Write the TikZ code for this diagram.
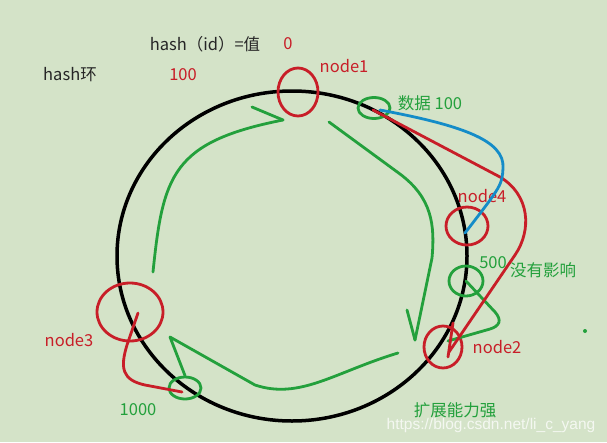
\documentclass[tikz,border=0pt]{standalone}
\usepackage{fontspec}
\setmainfont{Noto Sans CJK SC}
\newfontfamily\wmfont{Liberation Sans}
\usetikzlibrary{arrows.meta,shapes.geometric}
\definecolor{bgcol}{RGB}{212,227,200}
\definecolor{penred}{RGB}{200,30,40}
\definecolor{pengreen}{RGB}{35,160,60}
\definecolor{penblue}{RGB}{20,140,200}

\begin{document}
\begin{tikzpicture}
    [x=1pt, y=-1pt, font=\fontsize{16.5}{18}\selectfont,
    ring/.style={ellipse, draw=black, line width=3.5pt, inner sep=0pt},
    hot/.style={ellipse, draw=penred, line width=2.8pt, inner sep=0pt},
    keymark/.style={ellipse, draw=pengreen, line width=2.8pt, inner sep=0pt},
    rtxt/.style={text=penred, inner sep=0pt},
    gtxt/.style={text=pengreen, inner sep=0pt},
    btxt/.style={text=black!85, inner sep=0pt},
    gpen/.style={draw=pengreen, line width=2.8pt, line cap=round, line join=round},
    rpen/.style={draw=penred, line width=2.8pt, line cap=round, line join=round},
    bpen/.style={draw=penblue, line width=2.8pt, line cap=round, line join=round}]
    \fill[bgcol] (0,0) rectangle (607,442);
    \useasboundingbox (0,0) rectangle (607,442);

    \node[btxt] (title) at (205,44) {hash（id）=值};
    \node[rtxt] (zero) at (288,44) {0};
    \node[btxt] (ringname) at (70,75) {hash环};
    \node[rtxt] (hundred) at (183,75) {100};
    \node[rtxt] (l1) at (344,66) {node1};
    \node[gtxt] (ldata) at (430,103) {数据 100};
    \node[rtxt] (l4) at (482,196) {node4};
    \node[gtxt] (l500) at (493,263) {500};
    \node[gtxt] (lnone) at (543,270) {没有影响};
    \node[rtxt] (l2) at (497,347) {node2};
    \node[rtxt] (l3) at (69,340) {node3};
    \node[gtxt] (l1000) at (138,410) {1000};
    \node[gtxt] (lscale) at (455,410) {扩展能力强};

    \node[ring, minimum width=350, minimum height=330] (ring) at (292,256) {};

    \node[hot, minimum width=40, minimum height=48] (n1) at (298,92) {};
    \node[hot, minimum width=42, minimum height=38] (n4) at (467,226) {};
    \node[hot, minimum width=38, minimum height=42] (n2) at (443,347) {};
    \node[hot, minimum width=66, minimum height=58] (n3) at (130,312) {};
    \node[keymark, minimum width=32, minimum height=21] (d100) at (374,108) {};
    \node[keymark, minimum width=34, minimum height=30] (d500) at (466,281) {};
    \node[keymark, minimum width=32, minimum height=22] (d1000) at (185,388) {};

    \draw[gpen] (153,272) .. controls (163,175) and (172,142) .. (283,120);
    \draw[gpen] (252,107) -- (283,120);
    \draw[gpen] (329,122) -- (400,174) .. controls (432,198) and (435,225) .. (432,258) -- (415,340);
    \draw[gpen] (407,310) -- (415,340);
    \draw[gpen] (398,353) .. controls (335,372) and (300,400) .. (255,385) -- (170,337) -- (d1000.north);
    \draw[gpen] (d500.center) -- (495,312) .. controls (502,320) and (500,326) .. (490,329) -- (448,341);

    \draw[rpen] (373,110) -- (500,177) .. controls (530,195) and (532,230) .. (515,255) -- (449,352);
    \draw[rpen] (453,323) -- (448,357);
    \draw[rpen] (n3.center) ++(8,1) -- (127,345) .. controls (120,368) and (122,380) .. (145,385) -- (182,392);
    \draw[bpen] (380,110) .. controls (460,125) and (505,140) .. (503,168) .. controls (502,185) .. (465,233);

    \fill[pengreen] (585,331) circle [radius=2];
    \node[text=white, opacity=0.75, font=\wmfont\fontsize{15.5}{17}\selectfont] (wm) at (491,425) {https://blog.csdn.net/li\_c\_yang};
\end{tikzpicture}
\end{document}
